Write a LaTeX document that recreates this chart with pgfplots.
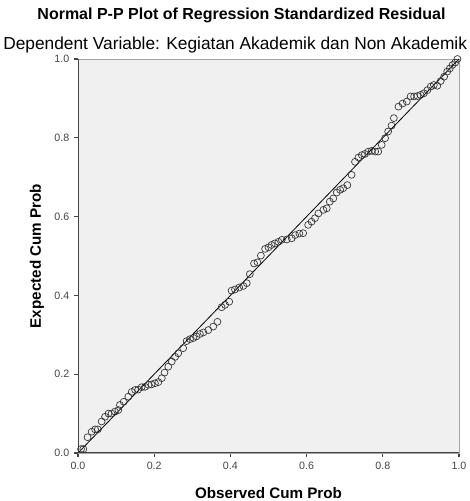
\documentclass[border=0pt]{standalone}
\usepackage{pgfplots}
\pgfplotsset{compat=1.18}
\usepackage{fontspec}
\setmainfont{Liberation Sans}

\definecolor{plotbg}{HTML}{F0F0F0}
\definecolor{axdark}{HTML}{444444}
\definecolor{ticktxt}{HTML}{444444}

\begin{document}
\begin{tikzpicture}
\begin{axis}[
    name=ax,
    width=285.75pt, height=295.5pt,
    scale only axis,
    xmin=0, xmax=1, ymin=0, ymax=1,
    xtick={0,0.2,...,1.0}, ytick={0,0.2,...,1.0},
    tick align=outside,
    major tick length=3pt,
    tick style={axdark, line width=0.8pt},
    xtick pos=bottom, ytick pos=left,
    /pgf/number format/assume math mode=true,
    ticklabel style={font=\fontsize{8}{9}\selectfont, text=ticktxt,
      /pgf/number format/.cd, fixed, fixed zerofill, precision=1},
    axis background/.style={fill=plotbg},
    axis line style={draw=gray!70, line width=0.6pt},
  ]
  % fit line
  \addplot [black, line width=0.6pt, no marks] coordinates {(0,0) (1,1)};
  % observed points
  \addplot [only marks, mark=o, mark size=2.6pt,
            mark options={draw=black!80, line width=0.5pt}] coordinates {
    (0.008,0.010) (0.014,0.010) (0.025,0.040) (0.036,0.054) (0.045,0.060)
    (0.052,0.060) (0.062,0.080) (0.071,0.092) (0.080,0.100) (0.088,0.100)
    (0.097,0.105) (0.106,0.109) (0.110,0.122) (0.120,0.130) (0.132,0.143)
    (0.141,0.155) (0.150,0.160) (0.158,0.161) (0.167,0.167) (0.176,0.168)
    (0.185,0.173) (0.193,0.174) (0.202,0.177) (0.211,0.180) (0.220,0.190)
    (0.227,0.204) (0.237,0.219) (0.246,0.232) (0.255,0.244) (0.263,0.253)
    (0.276,0.266) (0.285,0.284) (0.294,0.289) (0.303,0.292) (0.311,0.296)
    (0.320,0.302) (0.329,0.306) (0.342,0.312) (0.355,0.321) (0.366,0.333)
    (0.377,0.370) (0.386,0.376) (0.397,0.384) (0.403,0.412) (0.412,0.415)
    (0.423,0.420) (0.434,0.424) (0.443,0.431) (0.451,0.454) (0.462,0.481)
    (0.471,0.484) (0.480,0.501) (0.491,0.518) (0.500,0.522) (0.508,0.528)
    (0.517,0.532) (0.526,0.536) (0.535,0.541) (0.548,0.542) (0.561,0.545)
    (0.570,0.553) (0.581,0.557) (0.591,0.558) (0.604,0.579) (0.613,0.587)
    (0.622,0.596) (0.631,0.608) (0.644,0.617) (0.653,0.621) (0.661,0.638)
    (0.670,0.646) (0.679,0.661) (0.688,0.668) (0.696,0.672) (0.707,0.680)
    (0.718,0.706) (0.727,0.739) (0.736,0.750) (0.745,0.756) (0.753,0.759)
    (0.762,0.765) (0.771,0.767) (0.780,0.765) (0.788,0.765) (0.797,0.782)
    (0.806,0.799) (0.814,0.816) (0.823,0.831) (0.829,0.850) (0.841,0.879)
    (0.852,0.887) (0.863,0.892) (0.873,0.905) (0.882,0.905) (0.891,0.906)
    (0.899,0.909) (0.908,0.913) (0.917,0.921) (0.926,0.930) (0.934,0.934)
    (0.943,0.932) (0.952,0.944) (0.961,0.955) (0.969,0.968) (0.976,0.976)
    (0.983,0.985) (0.990,0.991) (0.996,1.000)
  };
  \draw [axdark, line width=1.1pt]
    (rel axis cs:0,1) -- (rel axis cs:0,0) -- (rel axis cs:1,0);
\end{axis}
% titles and axis labels
\node [font=\bfseries\fontsize{12}{14}\selectfont, anchor=base]
  at ([xshift=-20.25pt, yshift=29.25pt]ax.north) {Normal P-P Plot of Regression Standardized Residual};
\node [font=\fontsize{13}{15}\selectfont, anchor=base]
  at ([xshift=-25pt, yshift=6.75pt]ax.north) {Dependent Variable: Kegiatan Akademik dan Non Akademik};
\node [font=\bfseries\fontsize{11.4}{13}\selectfont, anchor=center]
  at ([yshift=-29.8pt]ax.south) {Observed Cum Prob};
\node [font=\bfseries\fontsize{11.4}{13}\selectfont, anchor=center, rotate=90]
  at ([xshift=-30.75pt]ax.west) {Expected Cum Prob};
\pgfresetboundingbox
\path ([xshift=-58.5pt, yshift=-36pt]ax.south west) rectangle ([xshift=7.75pt, yshift=44.25pt]ax.north east);
\end{tikzpicture}
\end{document}
